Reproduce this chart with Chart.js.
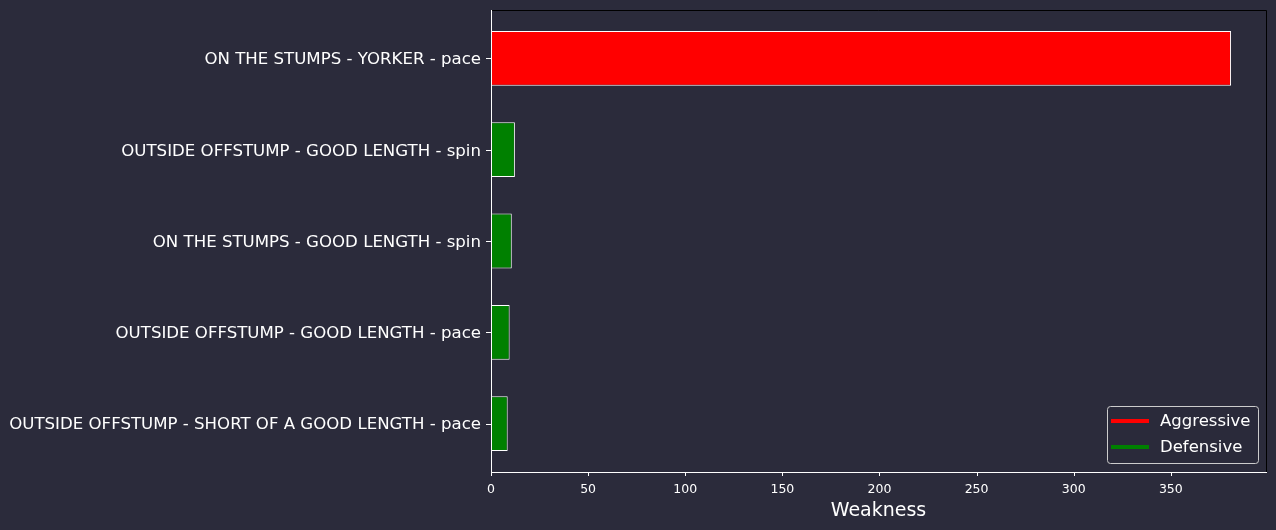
<!DOCTYPE html>
<html>
<head>
<meta charset="utf-8">
<script src="https://cdn.jsdelivr.net/npm/chart.js@4.4.1/dist/chart.umd.min.js"></script>
<style>
  html, body { margin: 0; padding: 0; background: #2b2b3b; }
  #wrap { width: 1276px; height: 530px; }
</style>
</head>
<body>
<div id="wrap"><canvas id="chart" width="1276" height="530"></canvas></div>
<script>
const categories = [
    "ON THE STUMPS - YORKER - pace",
    "OUTSIDE OFFSTUMP - GOOD LENGTH - spin",
    "ON THE STUMPS - GOOD LENGTH - spin",
    "OUTSIDE OFFSTUMP - GOOD LENGTH - pace",
    "OUTSIDE OFFSTUMP - SHORT OF A GOOD LENGTH - pace",
];
const weakness = [381, 12.3, 10.7, 9.6, 8.6];
const styles = ["Aggressive", "Defensive", "Defensive", "Defensive", "Defensive"];
const style_colors = { Aggressive: "#ff0000", Defensive: "#008000" };
const x_ticks = [0, 50, 100, 150, 200, 250, 300, 350];

const BG = "#2b2b3b";
const FONT = "'DejaVu Sans', sans-serif";

// spines, tick marks and legend drawn matplotlib-style
const frame_plugin = {
    id: "frame",
    beforeDraw(chart) {
        const { ctx, width, height } = chart;
        ctx.save();
        ctx.fillStyle = BG;
        ctx.fillRect(0, 0, width, height);
        ctx.restore();
    },
    afterDraw(chart) {
        const { ctx, chartArea: a, scales } = chart;
        ctx.save();
        ctx.lineWidth = 1;
        // top / right spines (black)
        ctx.strokeStyle = "#000000";
        ctx.beginPath();
        ctx.moveTo(a.left, a.top + 0.5);
        ctx.lineTo(a.right + 0.5, a.top + 0.5);
        ctx.lineTo(a.right + 0.5, a.bottom);
        ctx.stroke();
        // left / bottom spines (white)
        ctx.strokeStyle = "#ffffff";
        ctx.beginPath();
        ctx.moveTo(a.left + 0.5, a.top);
        ctx.lineTo(a.left + 0.5, a.bottom + 0.5);
        ctx.lineTo(a.right + 1, a.bottom + 0.5);
        ctx.stroke();
        // x tick marks
        ctx.beginPath();
        x_ticks.forEach((t) => {
            const px = Math.round(scales.x.getPixelForValue(t)) + 0.5;
            ctx.moveTo(px, a.bottom);
            ctx.lineTo(px, a.bottom + 4);
        });
        // y tick marks
        categories.forEach((c, i) => {
            const py = Math.round(scales.y.getPixelForValue(i)) + 0.5;
            ctx.moveTo(a.left - 5, py);
            ctx.lineTo(a.left, py);
        });
        ctx.stroke();

        // legend, lower right
        const items = Object.keys(style_colors);
        const bw = 151, bh = 57;
        const bx = a.right - 159, by = a.bottom - 66;
        ctx.fillStyle = "rgba(43,43,59,0.8)";
        ctx.strokeStyle = "#cccccc";
        ctx.lineWidth = 1;
        ctx.beginPath();
        ctx.roundRect(bx + 0.5, by + 0.5, bw, bh, 3);
        ctx.fill();
        ctx.stroke();
        ctx.font = "16.5px " + FONT;
        ctx.textBaseline = "middle";
        items.forEach((name, i) => {
            const ly = by + 15 + i * 26;
            ctx.strokeStyle = style_colors[name];
            ctx.lineWidth = 4;
            ctx.beginPath();
            ctx.moveTo(bx + 4, ly);
            ctx.lineTo(bx + 42, ly);
            ctx.stroke();
            ctx.fillStyle = "#ffffff";
            ctx.fillText(name, bx + 53, ly + 1);
        });
        ctx.restore();
    },
};

const ctx = document.getElementById("chart").getContext("2d");
const chart = new Chart(ctx, {
    type: "bar",
    data: {
        datasets: [
            {
                data: weakness.map((v, i) => ({ x: v, y: i })),
                backgroundColor: styles.map((s) => style_colors[s]),
                borderColor: "#ffffff",
                borderWidth: 1,
                borderSkipped: false,
                barPercentage: 0.6,
                categoryPercentage: 1,
            },
        ],
    },
    options: {
        indexAxis: "y",
        responsive: false,
        animation: false,
        layout: { padding: { top: 10, right: 10, left: 0, bottom: 0 } },
        plugins: {
            legend: { display: false },
            tooltip: { enabled: false },
        },
        scales: {
            x: {
                type: "linear",
                min: 0,
                max: 399,
                offset: false,
                grid: { display: false, drawTicks: false },
                border: { display: false },
                ticks: {
                    color: "#ffffff",
                    font: { family: FONT, size: 12.5 },
                    padding: 10,
                    maxRotation: 0,
                },
                afterBuildTicks(scale) {
                    scale.ticks = x_ticks.map((v) => ({ value: v }));
                },
                title: {
                    display: true,
                    text: "Weakness",
                    color: "#ffffff",
                    font: { family: FONT, size: 19 },
                    padding: { top: 0, bottom: 8 },
                },
                afterFit(scale) {
                    scale.height = 58;
                    scale.paddingLeft = 0;
                    scale.paddingRight = 0;
                },
            },
            y: {
                type: "linear",
                reverse: true,
                min: -0.53,
                max: 4.53,
                offset: false,
                grid: { display: false, drawTicks: false },
                border: { display: false },
                ticks: {
                    autoSkip: false,
                    color: "#ffffff",
                    font: { family: FONT, size: 16.6 },
                    padding: 10,
                    labelOffset: 1.5,
                    callback: (v) => categories[v] ?? "",
                },
                afterBuildTicks(scale) {
                    scale.ticks = categories.map((c, i) => ({ value: i }));
                },
                afterFit(scale) {
                    scale.width = 491;
                    scale.paddingTop = 0;
                    scale.paddingBottom = 0;
                },
            },
        },
    },
    plugins: [frame_plugin],
});
</script>
</body>
</html>
